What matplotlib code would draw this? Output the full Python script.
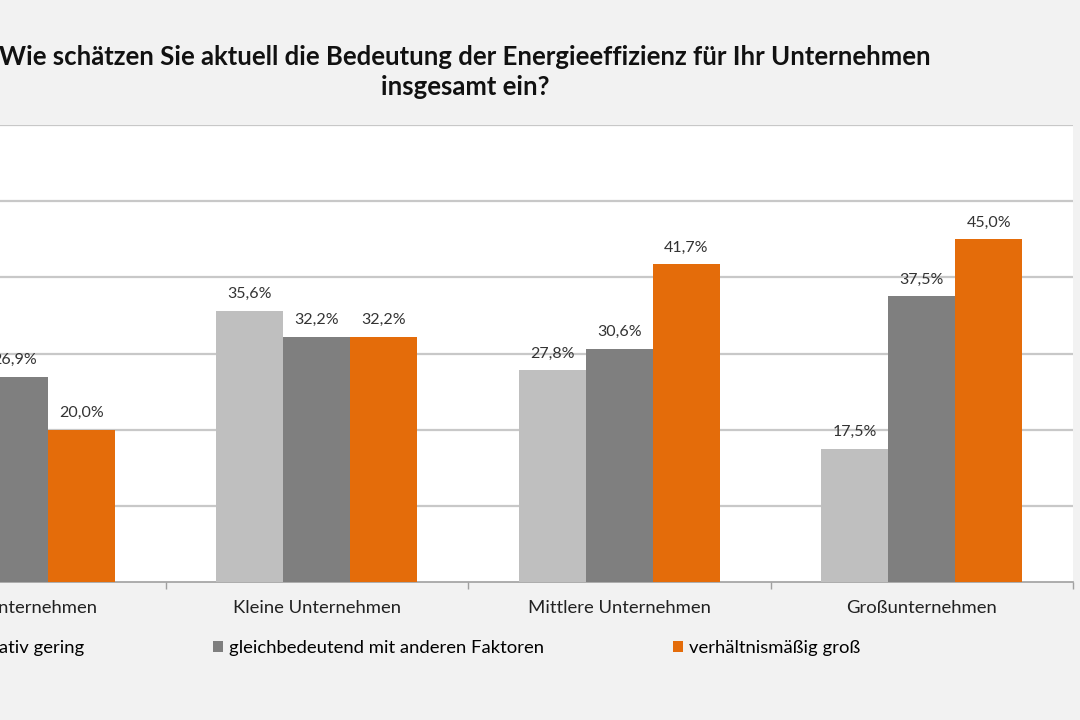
import numpy as np
import matplotlib
matplotlib.use("Agg")
import matplotlib.pyplot as plt
from matplotlib.patches import Patch

plt.rcParams['font.family'] = ['Lato', 'DejaVu Sans']

# ================= DATA =================
categories = ["Kleinstunternehmen", "Kleine Unternehmen", "Mittlere Unternehmen", "Großunternehmen"]
series_names = ["relativ gering", "gleichbedeutend mit anderen Faktoren", "verhältnismäßig groß"]
gering = [53.1, 35.6, 27.8, 17.5]
gleich = [26.9, 32.2, 30.6, 37.5]
gross = [20.0, 32.2, 41.7, 45.0]
colors = ["#bfbfbf", "#7f7f7f", "#e46c0a"]

title = "Wie schätzen Sie aktuell die Bedeutung der Energieeffizienz für Ihr Unternehmen\ninsgesamt ein?"

# ================= FIGURE =================
fig = plt.figure(figsize=(10.8, 7.2), dpi=100, facecolor="#f2f2f2")
# plot area is partly cut off on the left, like the screenshot
ax = fig.add_axes([-137 / 1080, 1 - 582 / 720, 1210 / 1080, (582 - 125) / 720])
ax.set_facecolor("white")

x = np.arange(len(categories))
w = 0.222
for i, (vals, name) in enumerate(zip([gering, gleich, gross], series_names)):
    bars = ax.bar(x + (i - 1) * w, vals, width=w, color=colors[i], label=name, zorder=3)
    ax.bar_label(bars, labels=[f"{v:.1f}%".replace(".", ",") for v in vals],
                 padding=7, fontsize=11.5, color="#333333")

ax.set_xlim(-0.5, 3.5)
ax.set_ylim(0, 60)
ax.set_yticks(np.arange(10, 61, 10))
ax.yaxis.grid(True, color="#c8c8c8", linewidth=1.6, zorder=0)
ax.tick_params(axis="y", left=False, labelleft=False)

ax.set_xticks(x)
ax.set_xticklabels(categories, fontsize=13.3, color="#222222")
ax.set_xticks(np.arange(-0.5, 3.6, 1), minor=True)
ax.tick_params(axis="x", which="major", length=0, pad=13)
ax.tick_params(axis="x", which="minor", length=5, color="#a0a0a0", width=1)

for s in ["top", "left", "right"]:
    ax.spines[s].set_visible(False)
ax.spines["bottom"].set_color("#a0a0a0")
ax.spines["bottom"].set_linewidth(1.2)

handles = [Patch(facecolor=c, edgecolor="none") for c in colors]
fig.legend(handles, series_names, loc="center", ncol=3,
           bbox_to_anchor=(411 / 1080, 1 - 648 / 720), frameon=False,
           fontsize=13.3, handlelength=0.55, handleheight=0.55,
           handletextpad=0.3, columnspacing=7.0)

fig.text(465 / 1080, 1 - 72 / 720, title, ha="center", va="center",
         fontsize=18.5, fontweight="bold", color="#111111", linespacing=1.3)

fig.savefig("out.png", dpi=100, facecolor=fig.get_facecolor())
